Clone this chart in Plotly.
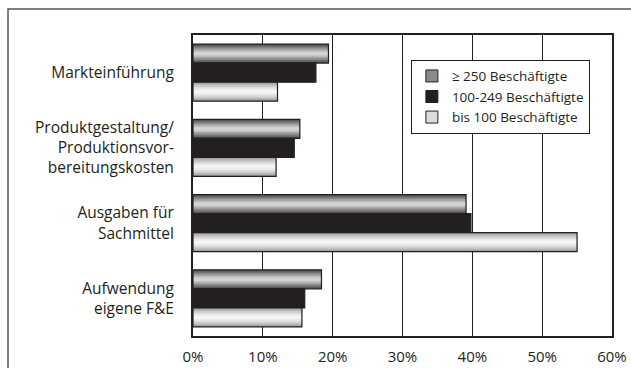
import plotly.graph_objects as go

categories = ["Markteinführung", "Produktgestaltung/<br>Produktionsvor-<br>bereitungskosten",
              "Ausgaben für<br>Sachmittel", "Aufwendung<br>eigene F&E"]
series_names = ["≥ 250 Beschäftigte", "100-249 Beschäftigte", "bis 100 Beschäftigte"]
vals_250 = [19.4, 15.3, 39.1, 18.4]
vals_100_249 = [17.6, 14.5, 39.8, 16.0]
vals_bis100 = [12.1, 11.9, 55.0, 15.6]
x_ticks = [0, 10, 20, 30, 40, 50, 60]
x_tick_labels = ["0%", "10%", "20%", "30%", "40%", "50%", "60%"]

series_values = [vals_250, vals_100_249, vals_bis100]
# gradient layers (edge -> centre) per series
layer_colors = [
    ["#555555", "#6e6e6e", "#8a8a8a", "#a6a6a6", "#c0c0c0", "#d4d4d4"],
    ["#231f20"],
    ["#a0a0a0", "#b6b6b6", "#cbcbcb", "#dddddd", "#ebebeb", "#f4f4f4"],
]
legend_colors = ["#8a8a8a", "#231f20", "#dcdcdc"]
INK = "#231f20"
n = len(categories)
ypos = [n - 1 - i for i in range(n)]  # first category on top
bw = 0.253

fig = go.Figure()
# legend entries
for name, lc in zip(series_names, legend_colors):
    fig.add_trace(go.Bar(
        x=[None], y=[None], orientation="h", name=name, legendgroup=name,
        marker=dict(color=lc, line=dict(width=1, color=INK)), hoverinfo="skip"))

for s, (name, vals, cols) in enumerate(zip(series_names, series_values, layer_colors)):
    centre = (1 - s) * bw
    nl = len(cols)
    for k, c in enumerate(cols):
        f = 1 - k / nl
        w = bw * f
        fig.add_trace(go.Bar(
            x=vals, y=ypos, orientation="h", width=w, offset=centre - w / 2,
            marker=dict(color=c, line=dict(width=0)),
            name=name, showlegend=False, legendgroup=name, hoverinfo="skip"))
    # outline on top
    fig.add_trace(go.Bar(
        x=vals, y=ypos, orientation="h", width=bw, offset=centre - bw / 2,
        marker=dict(color="rgba(0,0,0,0)", line=dict(width=1.2, color=INK)),
        name=name, showlegend=False, legendgroup=name, hoverinfo="skip"))

FONT = "Open Sans"
fig.update_layout(
    width=631, height=368,
    margin=dict(l=193, r=19, t=35, b=32),
    paper_bgcolor="white", plot_bgcolor="white",
    barmode="overlay",
    font=dict(family=FONT, size=15, color=INK),
    legend=dict(x=0.52, y=0.918, xanchor="left", yanchor="top",
                bgcolor="white", bordercolor=INK, borderwidth=1,
                font=dict(size=13.5, family=FONT, color=INK), tracegroupgap=0),
    xaxis=dict(range=[0, 60], tickvals=x_ticks, ticktext=x_tick_labels,
               showgrid=True, gridcolor=INK, gridwidth=1.3,
               showline=True, linecolor=INK, linewidth=1.5, mirror=True,
               ticks="", zeroline=False, fixedrange=True, ticklabelstandoff=6,
               automargin=False,
               tickfont=dict(size=15, family=FONT, color=INK)),
    yaxis=dict(range=[-0.5, n - 0.5], tickvals=ypos, ticktext=categories,
               showgrid=False, showline=True, linecolor=INK, linewidth=2, mirror=True,
               ticks="", zeroline=False, ticklabelstandoff=14, automargin=False,
               tickfont=dict(size=15.5, family=FONT, color=INK)),
    shapes=[dict(type="rect", xref="paper", yref="paper",
                 x0=-0.4415, x1=1.2, y0=-0.3, y1=1.0864,
                 line=dict(color="#555555", width=1.5), fillcolor="rgba(0,0,0,0)")],
)

fig.write_html("out.html")
